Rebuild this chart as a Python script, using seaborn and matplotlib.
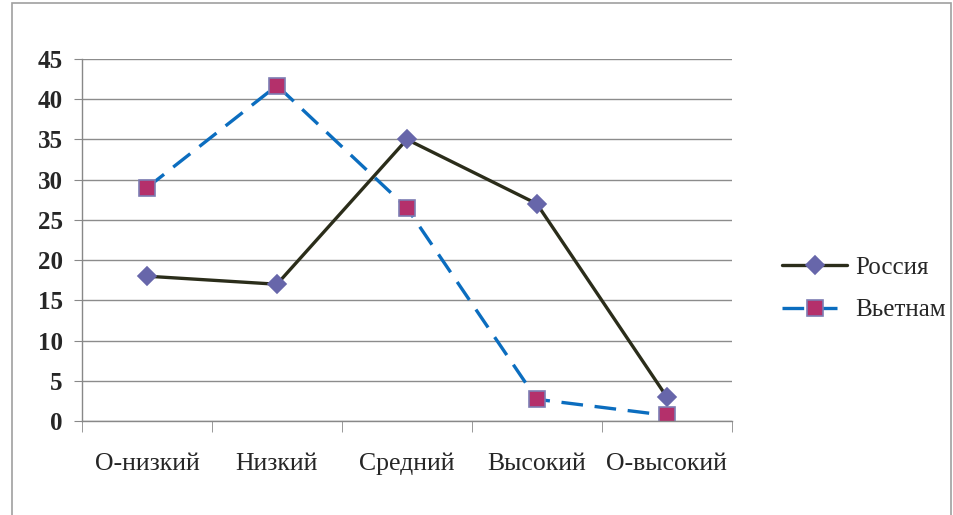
import pandas as pd
import seaborn as sns
import matplotlib.pyplot as plt
from matplotlib.patches import Rectangle

categories = ["О-низкий", "Низкий", "Средний", "Высокий", "О-высокий"]
russia = [18, 17, 35, 27, 3]
vietnam = [29, 41.7, 26.5, 2.7, 0.7]
yticks = [0, 5, 10, 15, 20, 25, 30, 35, 40, 45]

df = pd.DataFrame({
    "pos": list(range(len(categories))) * 2,
    "value": russia + vietnam,
    "series": ["Россия"] * len(russia) + ["Вьетнам"] * len(vietnam),
})

sns.set_style("white")
plt.rcParams['font.family'] = ['Liberation Serif', 'DejaVu Serif']

fig = plt.figure(figsize=(9.54, 5.15), dpi=100)
ax = fig.add_axes([0.086, 0.1825, 0.681, 0.703])

sns.lineplot(data=df, x="pos", y="value", hue="series", style="series",
             palette={"Россия": "#2b2d1a", "Вьетнам": "#0b6dbf"},
             dashes={"Россия": "", "Вьетнам": (6.5, 3.5)},
             markers={"Россия": "D", "Вьетнам": "s"},
             sort=False, linewidth=2.4, ax=ax, legend=True)

# marker colours
styles = {"D": ("#6766aa", "#6766aa", 9), "s": ("#b4306b", "#7d7db3", 11)}


def paint(line):
    m = line.get_marker()
    if m in styles:
        fc, ec, ms = styles[m]
        line.set_markerfacecolor(fc)
        line.set_markeredgecolor(ec)
        line.set_markersize(ms)
        line.set_markeredgewidth(1.2)


for line in ax.get_lines():
    paint(line)

ax.set_xlim(-0.5, 4.5)
ax.set_ylim(0, 45)
ax.set_yticks(yticks)
ax.set_yticklabels([str(v) for v in yticks], fontsize=18, fontweight='bold')
ax.set_xticks(range(len(categories)))
ax.set_xticklabels(categories, fontsize=18.5)
ax.tick_params(axis='x', length=0, pad=23)
ax.tick_params(axis='y', which='major', length=6, color='#888888', direction='out', left=True, pad=8)
ax.set_xticks([i - 0.5 for i in range(len(categories) + 1)], minor=True)
ax.tick_params(axis='x', which='minor', length=8, color='#888888', direction='out', bottom=True)
ax.grid(axis='y', color='#8c8c8c', linewidth=1)
ax.set_axisbelow(True)
ax.set_xlabel("")
ax.set_ylabel("")
for side in ["top", "right"]:
    ax.spines[side].set_visible(False)
for side in ["left", "bottom"]:
    ax.spines[side].set_color('#888888')
    ax.spines[side].set_linewidth(1)

leg = ax.legend(loc='center left', bbox_to_anchor=(1.078, 0.365), frameon=False,
                fontsize=18, handlelength=2.6, labelspacing=0.8, handletextpad=0.3,
                borderaxespad=0, borderpad=0)
for h in leg.legend_handles:
    paint(h)

fig.patches.append(Rectangle((0.013, -0.01), 0.984, 1.004, transform=fig.transFigure,
                             fill=False, edgecolor='#a0a0a0', linewidth=1.2))

fig.savefig("out.png", dpi=100)
